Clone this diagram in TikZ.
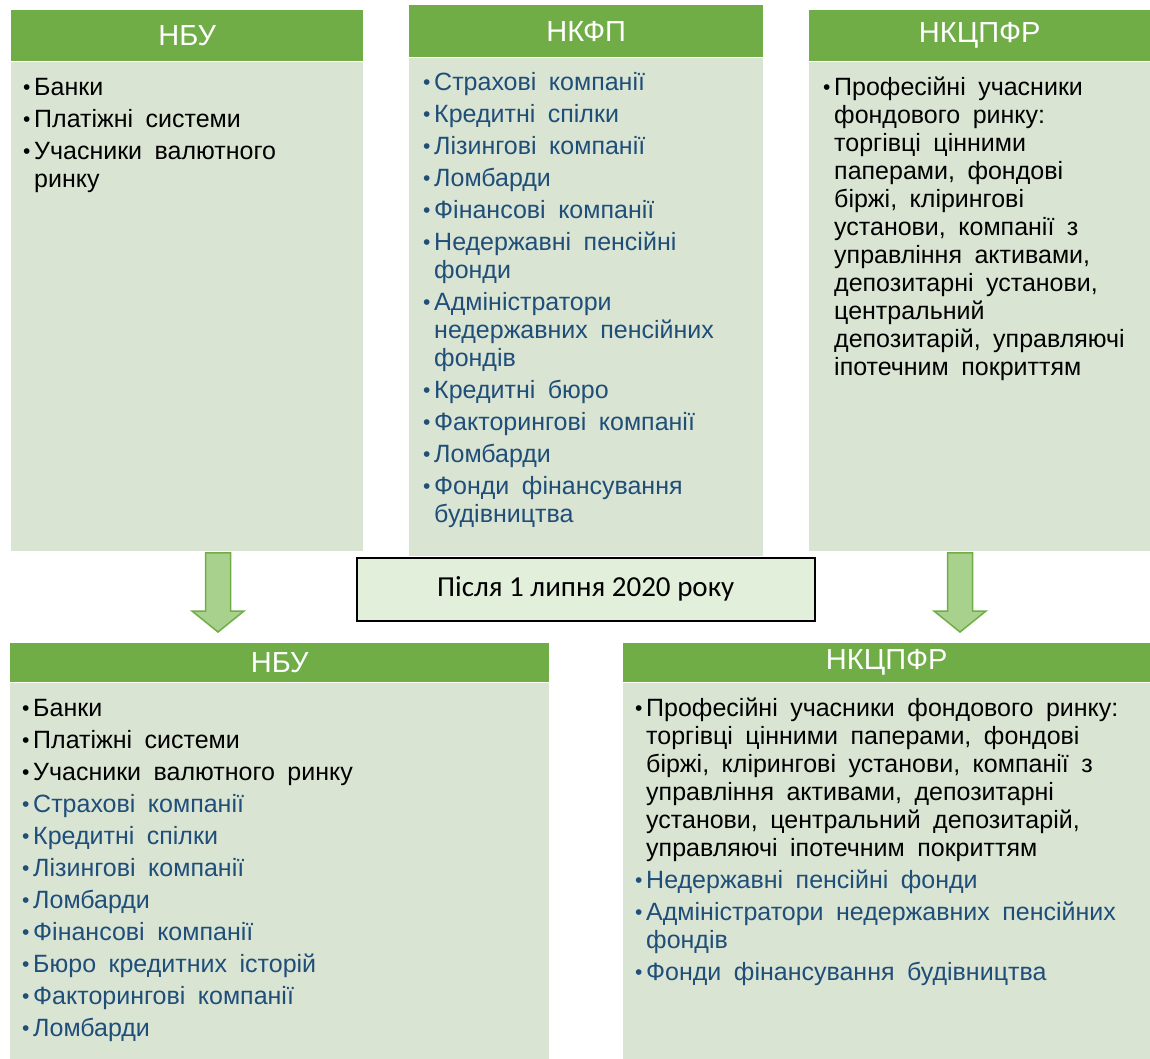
\documentclass[tikz,border=0pt]{standalone}
\usepackage{fontspec}
\setmainfont{Liberation Sans}
\newfontfamily\labelfont{Carlito}
\usetikzlibrary{positioning, calc}
\definecolor{headgreen}{HTML}{70AD47}
\definecolor{panelgreen}{HTML}{D9E4D3}
\definecolor{itemblue}{HTML}{1F4E79}
\definecolor{notegreen}{HTML}{E2EFDA}
\definecolor{arrowgreen}{HTML}{A9D18E}
\newcommand{\itm}[2][black]{\par\vskip4pt\hangindent=11pt\hangafter=1\noindent
  \color{#1}\spaceskip=0.5em\relax
  \makebox[11pt][l]{\raisebox{1pt}{\fontsize{21}{21}\selectfont\textbullet}}\rule{0pt}{21pt}#2}

\begin{document}
\begin{tikzpicture}[
  x=1pt, y=-1pt,
  head/.style={rectangle, fill=headgreen, text=white, inner sep=0pt,
               font=\fontsize{29}{29}\selectfont},
  panel/.style={rectangle, fill=panelgreen, inner sep=0pt},
  items/.style={anchor=north west, inner sep=0pt, text width=600pt, align=left,
                font=\fontsize{25}{28}\selectfont},
  note/.style={rectangle, draw=black, line width=1.5pt, fill=notegreen,
               font=\labelfont\fontsize{29}{29}\selectfont},
  fat/.style={draw=headgreen, line width=1.5pt, fill=arrowgreen, line join=miter},
]
  \useasboundingbox (0,0) rectangle (1150,1059);

  % before 1 July 2020
  \node[head, minimum width=352, minimum height=51, anchor=north west] (nbuA) at (11,10) {НБУ};
  \node[panel, minimum width=352, minimum height=489, below=0pt of nbuA] (nbuAbody) {};
  \node[head, minimum width=354, minimum height=52, anchor=north west] (nkfp) at (409,5) {НКФП};
  \node[panel, minimum width=354, minimum height=498, below=0pt of nkfp] (nkfpbody) {};
  \node[head, minimum width=341, minimum height=51, anchor=north west] (nkcpfrA) at (809,10) {НКЦПФР};
  \node[panel, minimum width=341, minimum height=489, below=0pt of nkcpfrA] (nkcpfrAbody) {};

  \node[items] (nbuAitems) at ($(nbuAbody.north west)+(12,2)$) {%
    \itm{Банки}
    \itm{Платіжні системи}
    \itm{Учасники валютного\newline ринку}\par};
  \node[items] (nkfpitems) at ($(nkfpbody.north west)+(14,1)$) {%
    \itm[itemblue]{Страхові компанії}
    \itm[itemblue]{Кредитні спілки}
    \itm[itemblue]{Лізингові компанії}
    \itm[itemblue]{Ломбарди}
    \itm[itemblue]{Фінансові компанії}
    \itm[itemblue]{Недержавні пенсійні\newline фонди}
    \itm[itemblue]{Адміністратори\newline недержавних пенсійних\newline фондів}
    \itm[itemblue]{Кредитні бюро}
    \itm[itemblue]{Факторингові компанії}
    \itm[itemblue]{Ломбарди}
    \itm[itemblue]{Фонди фінансування\newline будівництва}\par};
  \node[items] (nkcpfrAitems) at ($(nkcpfrAbody.north west)+(14,2)$) {%
    \itm{Професійні учасники\newline фондового ринку:\newline торгівці цінними\newline
      паперами, фондові\newline біржі, клірингові\newline установи, компанії з\newline
      управління активами,\newline депозитарні установи,\newline центральний\newline
      депозитарій, управляючі\newline іпотечним покриттям}\par};

  % date label
  \node[note, minimum width=458, minimum height=63, anchor=north west] (after) at (356,557)
    {Після 1 липня 2020 року};

  % after 1 July 2020
  \node[head, minimum width=539, minimum height=39, anchor=north west] (nbuB) at (10,643) {НБУ};
  \node[panel, minimum width=539, minimum height=377, below=0pt of nbuB] (nbuBbody) {};
  \node[head, minimum width=527, minimum height=39, anchor=north west] (nkcpfrB) at (623,643) {НКЦПФР};
  \node[panel, minimum width=527, minimum height=377, below=0pt of nkcpfrB] (nkcpfrBbody) {};

  \node[items] (nbuBitems) at ($(nbuBbody.north west)+(12,2)$) {%
    \itm{Банки}
    \itm{Платіжні системи}
    \itm{Учасники валютного ринку}
    \itm[itemblue]{Страхові компанії}
    \itm[itemblue]{Кредитні спілки}
    \itm[itemblue]{Лізингові компанії}
    \itm[itemblue]{Ломбарди}
    \itm[itemblue]{Фінансові компанії}
    \itm[itemblue]{Бюро кредитних історій}
    \itm[itemblue]{Факторингові компанії}
    \itm[itemblue]{Ломбарди}\par};
  \node[items] (nkcpfrBitems) at ($(nkcpfrBbody.north west)+(12,2)$) {%
    \itm{Професійні учасники фондового ринку:\newline торгівці цінними паперами, фондові\newline
      біржі, клірингові установи, компанії з\newline управління активами, депозитарні\newline
      установи, центральний депозитарій,\newline управляючі іпотечним покриттям}
    \itm[itemblue]{Недержавні пенсійні фонди}
    \itm[itemblue]{Адміністратори недержавних пенсійних\newline фондів}
    \itm[itemblue]{Фонди фінансування будівництва}\par};

  % transfer arrows
  \coordinate (arrL) at ($(nbuAbody.south west)+(207,2)$);
  \coordinate (tipL) at ($(nbuB.north west)+(208,-11)$);
  \coordinate (arrR) at ($(nkcpfrAbody.south west)+(151,2)$);
  \coordinate (tipR) at ($(nkcpfrB.north west)+(337,-11)$);
  \draw[fat] ($(arrL)+(-12.5,0)$) -- ($(arrL)+(12.5,0)$) -- ($(tipL)+(12.5,-21)$)
    -- ($(tipL)+(26,-21)$) -- (tipL) -- ($(tipL)+(-26,-21)$) -- ($(tipL)+(-12.5,-21)$) -- cycle;
  \draw[fat] ($(arrR)+(-12.5,0)$) -- ($(arrR)+(12.5,0)$) -- ($(tipR)+(12.5,-21)$)
    -- ($(tipR)+(26,-21)$) -- (tipR) -- ($(tipR)+(-26,-21)$) -- ($(tipR)+(-12.5,-21)$) -- cycle;
\end{tikzpicture}
\end{document}
